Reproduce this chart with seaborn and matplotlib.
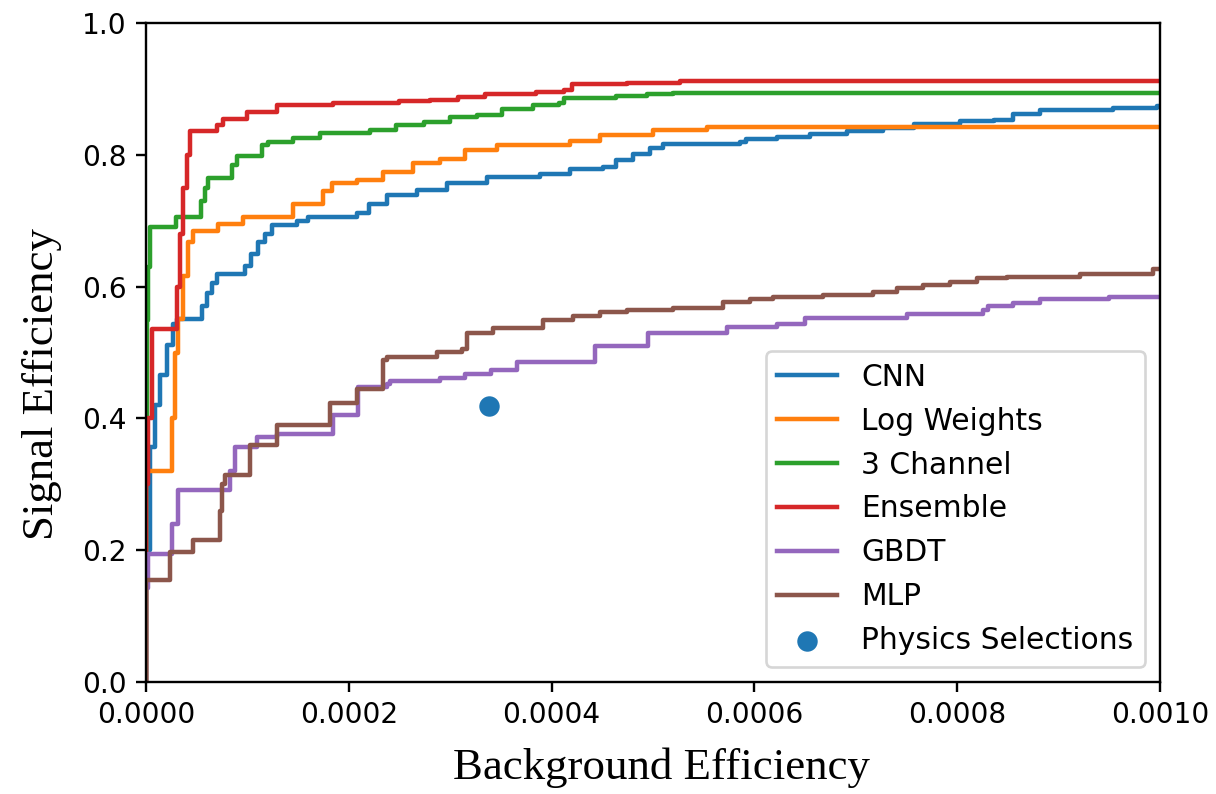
import matplotlib
matplotlib.use("Agg")
import matplotlib.pyplot as plt
import seaborn as sns
import pandas as pd
from matplotlib.ticker import FormatStrFormatter, MultipleLocator

# Background efficiency in units of 1e-4, signal efficiency (steps-post points)
cnn_x = [0, 0, 0.007, 0.039, 0.089, 0.138, 0.204, 0.27, 0.302, 0.549, 0.60, 0.648, 0.703,
         0.976, 1.04, 1.108, 1.17, 1.239, 1.486, 1.601, 2.078, 2.2, 2.373, 2.67, 2.965, 3.36,
         3.89, 4.18, 4.51, 4.64, 4.80, 4.97, 5.10, 5.86, 5.92, 6.22, 6.55, 6.91, 7.27, 7.57,
         8.03, 8.36, 8.55, 8.82, 9.54, 9.97, 10]
cnn_y = [0, 0.15, 0.2, 0.357, 0.42, 0.466, 0.512, 0.544, 0.551, 0.57, 0.59, 0.605, 0.619,
         0.632, 0.65, 0.667, 0.68, 0.693, 0.700, 0.706, 0.712, 0.725, 0.739, 0.7466, 0.7567, 0.766,
         0.771, 0.778, 0.782, 0.792, 0.802, 0.811, 0.817, 0.820, 0.8235, 0.8275, 0.8316, 0.836, 0.840, 0.8467,
         0.851, 0.853, 0.862, 0.868, 0.8715, 0.8745, 0.8745]

logw_x = [0, 0, 0.253, 0.285, 0.319, 0.368, 0.417, 0.467, 0.713, 0.960, 1.453, 1.749, 1.831,
          2.078, 2.341, 2.636, 2.90, 3.15, 3.46, 4.18, 4.48, 5.0, 5.53, 10]
logw_y = [0, 0.32, 0.40, 0.50, 0.551, 0.616, 0.667, 0.684, 0.695, 0.706, 0.726, 0.745, 0.758,
          0.762, 0.774, 0.787, 0.793, 0.807, 0.815, 0.821, 0.830, 0.838, 0.842, 0.842]

ch3_x = [0, 0, 0.01, 0.02, 0.039, 0.296, 0.539, 0.58, 0.615, 0.845, 0.894, 1.141, 1.206, 1.45,
         1.72, 2.21, 2.47, 2.74, 3.0, 3.26, 3.51, 3.82, 4.07, 4.12, 4.64, 4.94, 5.2, 10]
ch3_y = [0, 0.30, 0.55, 0.63, 0.69, 0.706, 0.73, 0.75, 0.765, 0.785, 0.798, 0.815, 0.820, 0.826,
         0.833, 0.838, 0.845, 0.850, 0.857, 0.860, 0.869, 0.876, 0.878, 0.886, 0.889, 0.893, 0.894, 0.894]

ens_x = [0, 0, 0.02, 0.056, 0.302, 0.335, 0.368, 0.401, 0.434, 0.697, 0.763, 0.993, 1.289, 1.847,
         2.5, 2.8, 3.08, 3.34, 3.85, 4.12, 4.20, 4.74, 5.27, 10]
ens_y = [0, 0.30, 0.40, 0.536, 0.60, 0.68, 0.75, 0.80, 0.836, 0.846, 0.854, 0.865, 0.875, 0.878,
         0.881, 0.883, 0.888, 0.892, 0.896, 0.898, 0.907, 0.909, 0.912, 0.912]

gbdt_x = [0, 0, 0.023, 0.253, 0.319, 0.828, 0.878, 1.091, 1.29, 1.848, 2.094, 2.373, 2.406, 2.899,
          3.146, 3.40, 3.656, 4.428, 4.954, 5.727, 6.22, 6.499, 7.50, 8.258, 8.307, 8.554, 8.817, 9.5, 10]
gbdt_y = [0, 0.143, 0.194, 0.24, 0.291, 0.32, 0.357, 0.372, 0.377, 0.405, 0.447, 0.453, 0.457, 0.462,
          0.468, 0.473, 0.486, 0.51, 0.529, 0.539, 0.543, 0.553, 0.558, 0.5645, 0.5705, 0.5756, 0.581, 0.584, 0.584]

mlp_x = [0, 0, 0.237, 0.467, 0.73, 0.755, 0.779, 1.026, 1.289, 1.815, 2.078, 2.341, 2.373, 2.867,
         3.113, 3.162, 3.425, 3.919, 4.215, 4.477, 4.740, 5.200, 5.694, 5.957, 6.187, 6.68, 7.173,
         7.404, 7.666, 7.929, 8.192, 8.488, 9.211, 9.935, 10]
mlp_y = [0, 0.155, 0.197, 0.215, 0.26, 0.30, 0.314, 0.36, 0.39, 0.424, 0.444, 0.4886, 0.4926, 0.501,
         0.505, 0.529, 0.5366, 0.549, 0.555, 0.562, 0.5645, 0.567, 0.577, 0.581, 0.5847, 0.587, 0.592,
         0.5975, 0.6024, 0.6075, 0.6125, 0.614, 0.619, 0.626, 0.626]

phys_x = [3.38]
phys_y = [0.419]

labels = ["CNN", "Log Weights", "3 Channel", "Ensemble", "GBDT", "MLP"]
series_x = [cnn_x, logw_x, ch3_x, ens_x, gbdt_x, mlp_x]
series_y = [cnn_y, logw_y, ch3_y, ens_y, gbdt_y, mlp_y]
colors = ["#1f77b4", "#ff7f0e", "#2ca02c", "#d62728", "#9467bd", "#8c564b"]

fig = plt.figure(figsize=(6.4, 794 / 190), dpi=190)
ax = fig.add_axes([0.120, 0.141, 0.834, 0.830])

for lab, xs, ys, c in zip(labels, series_x, series_y, colors):
    df = pd.DataFrame({"x": [v * 1e-4 for v in xs], "y": ys})
    sns.lineplot(data=df, x="x", y="y", ax=ax, estimator=None, sort=False,
                 drawstyle="steps-post", color=c, linewidth=1.7, label=lab)

pdf = pd.DataFrame({"x": [v * 1e-4 for v in phys_x], "y": phys_y})
sns.scatterplot(data=pdf, x="x", y="y", ax=ax, color="#1f77b4", s=60, linewidth=0,
                label="Physics Selections", zorder=3)

ax.set_xlim(0, 0.001)
ax.set_ylim(0, 1.0)
ax.xaxis.set_major_locator(MultipleLocator(0.0002))
ax.yaxis.set_major_locator(MultipleLocator(0.2))
ax.xaxis.set_major_formatter(FormatStrFormatter("%.4f"))
ax.yaxis.set_major_formatter(FormatStrFormatter("%.1f"))
ax.tick_params(labelsize=10.6, direction="out", length=3.8, width=0.9, pad=3.5)
for sp in ax.spines.values():
    sp.set_linewidth(0.9)
    sp.set_color("black")

ax.set_xlabel("Background Efficiency", family="Liberation Serif", fontsize=17)
ax.set_ylabel("Signal Efficiency", family="Liberation Serif", fontsize=17)
ax.xaxis.set_label_coords(0.508, -0.100)
ax.yaxis.set_label_coords(-0.083, 0.452)

ax.legend(loc="lower right", fontsize=11.3)

fig.savefig("out.png", dpi=190)
